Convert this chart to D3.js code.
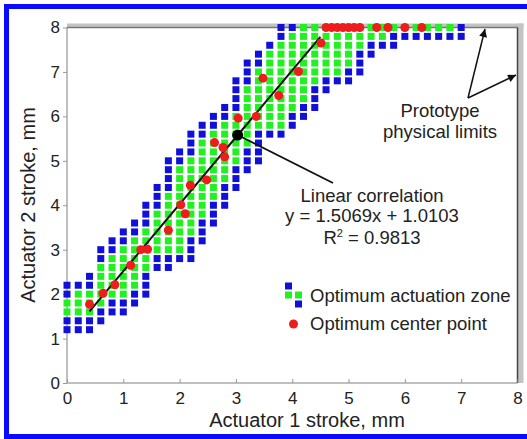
<!DOCTYPE html>
<html>
<head>
<meta charset="utf-8">
<title>Actuator stroke optimum zone</title>
<style>
body { margin: 0; background: #fff; }
svg { display: block; font-family: "Liberation Sans", Arial, sans-serif; }
.axis path { display: none; }
.axis line { stroke: #999; }
.axis text { font-size: 17px; fill: #222; }
</style>
<script src="https://d3js.org/d3.v7.min.js"></script>
</head>
<body>
<div id="chart"></div>
<script>
// grid columns (actuator 1 stroke) and, per column, the zone range and its green core
var colX    = [0,0.2,0.4,0.6,0.8,1.0,1.2,1.4,1.6,1.8,2.0,2.2,2.4,2.6,2.8,3.0,3.2,3.4,3.6,3.8,4.0,4.2,4.4,4.6,4.8,5.0,5.2,5.4,5.6,5.8,6.0,6.2,6.4,6.6,6.8,7.0];
var zoneLo  = [1.2,1.2,1.2,1.4,1.6,1.6,1.8,2.0,2.6,2.6,2.8,2.8,3.2,3.6,4.0,4.4,4.8,5.0,5.6,5.6,5.8,6.0,6.2,6.6,6.8,6.8,7.0,7.4,7.6,7.6,7.8,7.8,7.8,7.8,7.8,7.8];
var greenLo = [1.6,1.6,1.6,1.8,2.0,2.0,2.2,2.6,3.0,3.0,3.0,3.4,3.8,4.2,4.6,5.0,5.4,5.8,5.8,5.8,6.2,6.4,6.8,7.0,7.0,7.2,7.6,7.8,7.8,8.0,8.0,8.0,8.0,8.0,8.0,null];
var greenHi = [1.8,2.0,2.0,2.6,2.8,3.0,3.2,3.4,3.8,4.2,4.8,5.0,5.4,5.6,5.8,6.0,6.6,7.0,7.4,7.6,7.8,8.0,8.0,8.0,8.0,8.0,8.0,8.0,8.0,8.0,8.0,8.0,8.0,8.0,8.0,null];
var zoneHi  = [2.2,2.2,2.4,3.0,3.2,3.4,3.6,4.0,4.4,5.0,5.2,5.6,5.8,6.0,6.2,6.8,7.2,7.4,7.6,8.0,8.0,8.0,8.0,8.0,8.0,8.0,8.0,8.0,8.0,8.0,8.0,8.0,8.0,8.0,8.0,8.0];

// optimum center points
var centerX = [0.40,0.64,0.85,1.13,1.31,1.43,1.80,2.02,2.10,2.19,2.48,2.62,2.77,2.80,3.04,3.36,3.48,3.76,4.11,4.51,4.6,4.7,4.8,4.9,5.0,5.1,5.2,5.5,5.7,6.0,6.3];
var centerY = [1.77,2.02,2.21,2.65,3.00,3.01,3.44,4.01,3.81,4.45,4.57,5.41,5.30,5.09,5.96,6.00,6.86,6.47,7.01,7.65,8,8,8,8,8,8,8,8,8,8,8];

// linear fit
var fitSlope = 1.5069, fitIntercept = 1.0103, fitRange = [0.4, 4.5];
var centroid = [3.03, 5.58];

var ticks = [0,1,2,3,4,5,6,7,8];

var W = 527, H = 439;
var svg = d3.select('#chart').append('svg').attr('width', W).attr('height', H);
svg.append('rect').attr('width', W).attr('height', H).attr('fill', '#fff');

var x = d3.scaleLinear().domain([0, 8]).range([67, 517.5]);
var y = d3.scaleLinear().domain([0, 8]).range([383, 27.5]);

// frame
svg.append('line').attr('x1', x(0)).attr('x2', x(0)).attr('y1', y(0)).attr('y2', y(8)).attr('stroke', '#aaa').attr('stroke-width', 1.5);
svg.append('line').attr('x1', x(0)).attr('x2', x(8)).attr('y1', y(0)).attr('y2', y(0)).attr('stroke', '#aaa').attr('stroke-width', 1.5);

// physical limits (top and right)
svg.append('rect').attr('x', x(0)).attr('y', y(8) - 4).attr('width', x(8) - x(0) + 6).attr('height', 4).attr('fill', '#c4c4c4');
svg.append('rect').attr('x', x(8)).attr('y', y(8) - 4).attr('width', 6).attr('height', y(0) - y(8) + 4).attr('fill', '#c4c4c4');
svg.append('line').attr('x1', x(0)).attr('x2', x(8)).attr('y1', y(8)).attr('y2', y(8)).attr('stroke', '#777').attr('stroke-width', 1.5);
svg.append('line').attr('x1', x(8)).attr('x2', x(8)).attr('y1', y(8)).attr('y2', y(0)).attr('stroke', '#444').attr('stroke-width', 1.5);

// axes
svg.append('g').attr('class', 'axis').attr('transform', 'translate(0,' + y(0) + ')')
  .call(d3.axisBottom(x).tickValues(ticks).tickFormat(d3.format('d')).tickSizeInner(-4).tickPadding(9));
svg.append('g').attr('class', 'axis').attr('transform', 'translate(' + x(0) + ',0)')
  .call(d3.axisLeft(y).tickValues(ticks).tickFormat(d3.format('d')).tickSizeInner(4).tickPadding(3));
svg.selectAll('.axis .tick line').attr('stroke', '#999');

// cells
var cells = [];
colX.forEach(function(cx, i) {
  for (var k = Math.round(zoneLo[i] * 5); k <= Math.round(zoneHi[i] * 5); k++) {
    var inGreen = greenLo[i] != null && k >= Math.round(greenLo[i] * 5) && k <= Math.round(greenHi[i] * 5);
    cells.push({x: cx, y: k / 5, green: inGreen});
  }
});
var S = 7;
svg.append('g').selectAll('rect').data(cells).enter().append('rect')
  .attr('x', d => x(d.x) - S / 2).attr('y', d => y(d.y) - S / 2)
  .attr('width', S).attr('height', S)
  .attr('fill', d => d.green ? '#22f022' : '#1010d8');

// fit line
svg.append('line')
  .attr('x1', x(fitRange[0])).attr('y1', y(fitSlope * fitRange[0] + fitIntercept))
  .attr('x2', x(fitRange[1])).attr('y2', y(fitSlope * fitRange[1] + fitIntercept))
  .attr('stroke', '#111').attr('stroke-width', 2);

// center points
svg.append('g').selectAll('circle').data(centerX).enter().append('circle')
  .attr('cx', d => x(d)).attr('cy', (d, i) => y(centerY[i])).attr('r', 4.5)
  .attr('fill', '#ee1c1c');

// centroid + leader
svg.append('line').attr('x1', x(centroid[0])).attr('y1', y(centroid[1])).attr('x2', 333).attr('y2', 183)
  .attr('stroke', '#111').attr('stroke-width', 1.8);
svg.append('circle').attr('cx', x(centroid[0])).attr('cy', y(centroid[1])).attr('r', 5.5).attr('fill', '#000');

// annotation
var ann = svg.append('g').attr('font-size', 18.5).attr('fill', '#222').attr('text-anchor', 'middle');
ann.append('text').attr('x', 372).attr('y', 202).text('Linear correlation');
ann.append('text').attr('x', 372).attr('y', 222).text('y = 1.5069x + 1.0103');
var r2 = ann.append('text').attr('x', 372).attr('y', 244);
r2.append('tspan').text('R');
r2.append('tspan').attr('font-size', 11).attr('dy', -7).text('2');
r2.append('tspan').attr('dy', 7).text(' = 0.9813');

ann.append('text').attr('x', 440).attr('y', 117).text('Prototype');
ann.append('text').attr('x', 440).attr('y', 138).text('physical limits');

// arrows to limits
svg.append('defs').append('marker').attr('id', 'ah').attr('viewBox', '0 0 10 10')
  .attr('refX', 10).attr('refY', 5).attr('markerWidth', 11).attr('markerHeight', 8)
  .attr('markerUnits', 'userSpaceOnUse').attr('orient', 'auto')
  .append('path').attr('d', 'M0,0 L10,5 L0,10 Z').attr('fill', '#111');
[[485, 29], [516, 75]].forEach(function(p) {
  svg.append('line').attr('x1', 468).attr('y1', 98).attr('x2', p[0]).attr('y2', p[1])
    .attr('stroke', '#111').attr('stroke-width', 1.5).attr('marker-end', 'url(#ah)');
});

// legend
var lg = svg.append('g');
[[288.5, 286, '#1010d8'], [288.5, 295, '#22f022'], [298.5, 295, '#22f022'], [298.5, 304, '#1010d8']].forEach(function(s) {
  lg.append('rect').attr('x', s[0] - S / 2).attr('y', s[1] - S / 2).attr('width', S).attr('height', S).attr('fill', s[2]);
});
lg.append('circle').attr('cx', 293.5).attr('cy', 324).attr('r', 4.5).attr('fill', '#ee1c1c');
lg.append('text').attr('x', 310).attr('y', 302).attr('font-size', 18.5).attr('fill', '#222').text('Optimum actuation zone');
lg.append('text').attr('x', 310).attr('y', 330).attr('font-size', 18.5).attr('fill', '#222').text('Optimum center point');

// axis titles
svg.append('text').attr('x', 307).attr('y', 427).attr('text-anchor', 'middle').attr('font-size', 20).attr('fill', '#222')
  .text('Actuator 1 stroke, mm');
svg.append('text').attr('transform', 'translate(35,' + 205 + ') rotate(-90)').attr('text-anchor', 'middle')
  .attr('font-size', 20).attr('fill', '#222').text('Actuator 2 stroke, mm');

// outer blue border
svg.append('path').attr('d', 'M527,6.5 H6.5 V436.5 H527').attr('fill', 'none').attr('stroke', '#0a0aff').attr('stroke-width', 5);
</script>
</body>
</html>
